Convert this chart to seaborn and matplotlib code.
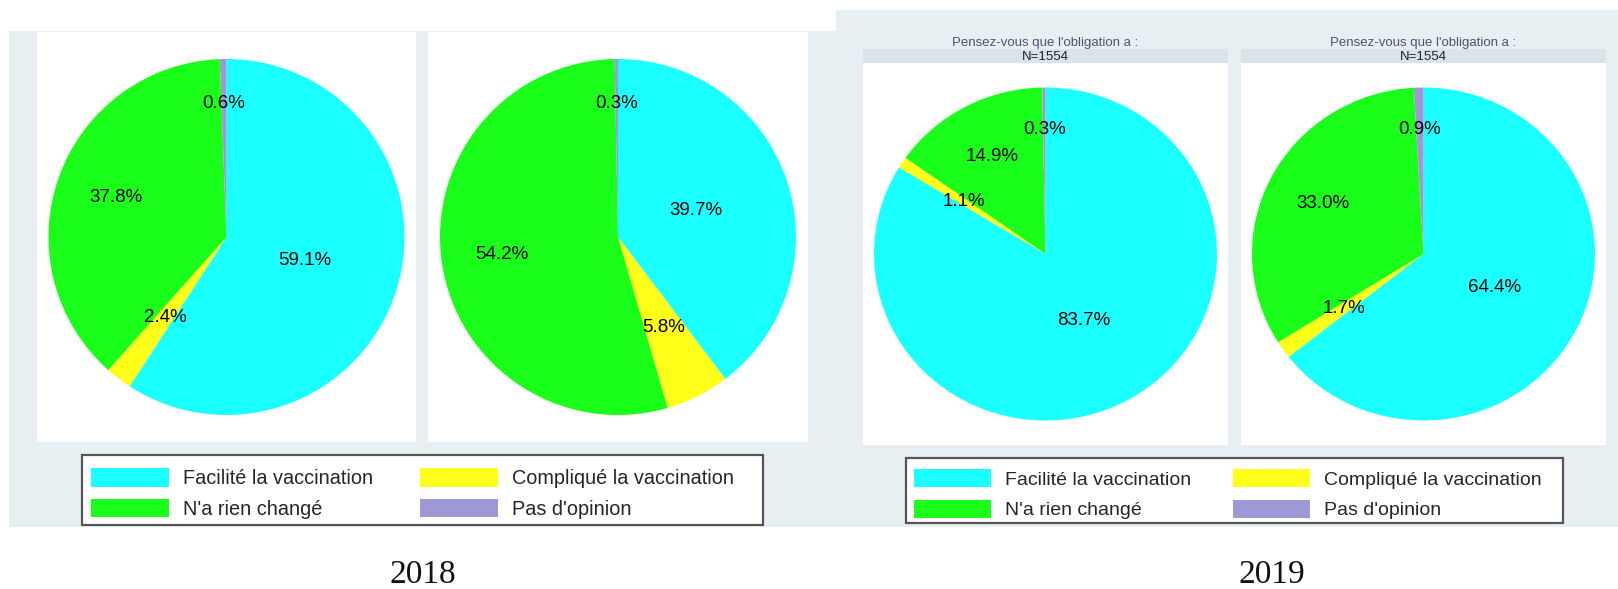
import numpy as np
import matplotlib
matplotlib.use("Agg")
import matplotlib.pyplot as plt
from matplotlib.patches import Rectangle, Patch
import seaborn as sns

# ---------------- data ----------------
categories = ["Facilité la vaccination", "Compliqué la vaccination",
              "N'a rien changé", "Pas d'opinion"]
pct_2018_left = [59.1, 2.4, 37.8, 0.6]
pct_2018_right = [39.7, 5.8, 54.2, 0.3]
pct_2019_left = [83.7, 1.1, 14.9, 0.3]
pct_2019_right = [64.4, 1.7, 33.0, 0.9]
years = ["2018", "2019"]
strip_title = "Pensez-vous que l'obligation a :"
strip_n = "N=1554"
legend_order = [0, 2, 1, 3]

# ---------------- style ----------------
sns.set_style("white")
plt.rcParams['font.family'] = ['Liberation Sans', 'DejaVu Sans']
palette = sns.color_palette(["#1AFFFF", "#FFFF1A", "#1AFF1A", "#9E98D6"])
label_dist = [0.46, 0.57, 0.66, 0.75]

W, H = 1618, 589
fig = plt.figure(figsize=(W / 100, H / 100), dpi=100)
fig.patch.set_facecolor("white")

BG = "#E8EFF2"
STRIP = "#D8E3EA"


def rect_px(x0, y0, x1, y1, zorder=-1, **kw):
    r = Rectangle((x0 / W, 1 - y1 / H), (x1 - x0) / W, (y1 - y0) / H,
                  transform=fig.transFigure, figure=fig, zorder=zorder, **kw)
    fig.patches.append(r)
    return r


def axes_px(x0, y0, x1, y1):
    return fig.add_axes([x0 / W, 1 - y1 / H, (x1 - x0) / W, (y1 - y0) / H])


# panel backgrounds
rect_px(9, 31, 836, 527, facecolor=BG, edgecolor="none", zorder=-3)
rect_px(836, 10, W, 527, facecolor=BG, edgecolor="none", zorder=-3)


def draw_pie(box, values, rx, ry, strip=False):
    x0, y0, x1, y1 = box
    rect_px(x0, y0, x1, y1, facecolor="white", edgecolor="none", zorder=-2)
    ax = axes_px(x0, y0, x1, y1)
    wedges, _ = ax.pie(values, colors=palette, startangle=90, counterclock=False,
                       wedgeprops=dict(linewidth=0), normalize=True)
    for w, d, v in zip(wedges, label_dist, values):
        ang = np.deg2rad((w.theta1 + w.theta2) / 2)
        ax.text(d * np.cos(ang), d * np.sin(ang), f"{v:.1f}%",
                ha="center", va="center", fontsize=13.5, color="black")
    ax.set_aspect("auto")
    wpx, hpx = x1 - x0, y1 - y0
    ax.set_xlim(-wpx / (2 * rx), wpx / (2 * rx))
    ax.set_ylim(-hpx / (2 * ry), hpx / (2 * ry))
    ax.set_xticks([])
    ax.set_yticks([])
    for s in ax.spines.values():
        s.set_visible(False)
    if strip:
        rect_px(x0, 49, x1, 63, facecolor=STRIP, edgecolor="none", zorder=-2)
        cx = (x0 + x1) / 2 / W
        fig.text(cx, 1 - 43 / H, strip_title, ha="center", va="center",
                 fontsize=9.5, color="#4A5571")
        fig.text(cx, 1 - 56.5 / H, strip_n, ha="center", va="center",
                 fontsize=9.5, color="#222222")
    return ax


draw_pie((37, 32, 416, 442), pct_2018_left, 178, 178)
draw_pie((428, 32, 808, 442), pct_2018_right, 178, 178)
draw_pie((863, 63, 1228, 445), pct_2019_left, 171.5, 166.5, strip=True)
draw_pie((1241, 63, 1606, 445), pct_2019_right, 171.5, 166.5, strip=True)

handles = [Patch(facecolor=palette[i], edgecolor="none", label=categories[i])
           for i in legend_order]


def draw_legend(frame, anchor, fs, hlen, colsp):
    x0, y0, x1, y1 = frame
    rect_px(x0, y0, x1, y1, facecolor="white", edgecolor="#555555",
            linewidth=1.6, zorder=-2)
    fpx = fs * 100 / 72
    leg = fig.legend(handles=handles, ncol=2, frameon=False,
                     loc="upper left",
                     bbox_to_anchor=(anchor[0] / W, 1 - anchor[1] / H),
                     bbox_transform=fig.transFigure,
                     borderpad=0, borderaxespad=0,
                     fontsize=fs, handlelength=hlen / fpx, handleheight=21 / fpx,
                     handletextpad=14 / fpx, columnspacing=colsp / fpx,
                     labelspacing=0.55)
    return leg


draw_legend((82, 455, 763, 525), (91, 468), 14.3, 78, 47)
draw_legend((906, 458, 1563, 523), (914, 469), 14.0, 77, 42)

fig.text(423 / W, 1 - 575 / H, years[0], ha="center", va="center",
         fontsize=24, family="Liberation Serif", color="#111111")
fig.text(1272 / W, 1 - 575 / H, years[1], ha="center", va="center",
         fontsize=24, family="Liberation Serif", color="#111111")

fig.savefig("out.png", dpi=100, facecolor="white")
